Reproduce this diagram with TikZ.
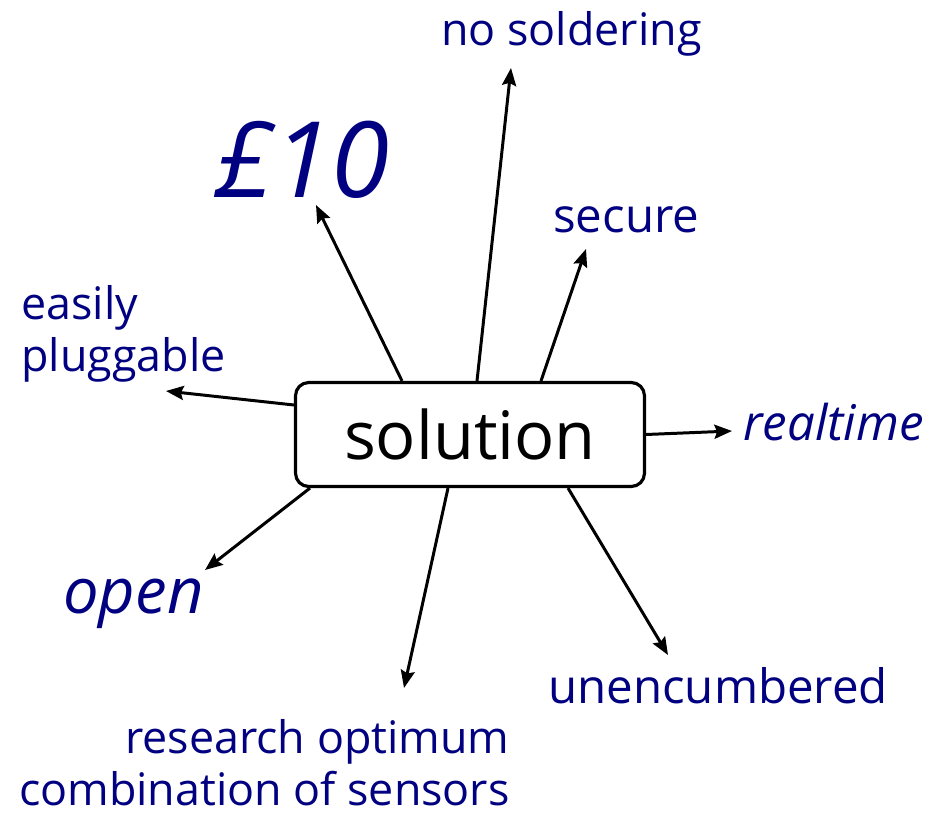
\documentclass[tikz,border=0pt]{standalone}
\usepackage{fontspec}
\setmainfont{Open Sans}
\usetikzlibrary{arrows.meta}
\definecolor{navy}{RGB}{0,0,128}
\tikzset{
  idea/.style={text=navy, inner sep=0pt},
  link/.style={-{Stealth[length=10pt,width=8pt,inset=1.5pt]}, line width=1.7pt},
}
\newcommand{\fsz}[1]{\fontsize{#1}{1.16\dimexpr #1pt\relax}\selectfont}
\begin{document}
\begin{tikzpicture}[x=0.02cm,y=-0.02cm]
  \useasboundingbox (0,0) rectangle (935,814);
  \node[draw, line width=1.8pt, rounded corners=7.5pt,
        minimum width=6.98cm, minimum height=2.08cm, font=\fsz{38}]
    (sol) at (470,434.5) {solution};

  \node[idea, anchor=base west, font=\fsz{25.5}] (solder) at (441,46) {no soldering};
  \node[idea, anchor=base west, font=\fsz{60}\itshape] (price) at (215,197) {£10};
  \node[idea, anchor=base west, font=\fsz{27}] (secure) at (553,232) {secure};
  % base of a two-line node sits on its last line
  \node[idea, anchor=base west, align=left, font=\fsz{25.5}] (plug) at (21,371) {easily\\pluggable};
  \node[idea, anchor=base west, font=\fsz{28}\itshape] (realtime) at (743,440) {realtime};
  \node[idea, anchor=base west, font=\fsz{36}\itshape] (open) at (63,613) {open};
  \node[idea, anchor=base east, align=right, font=\fsz{25.5}] (research) at (510,805)
    {research optimum\\combination of sensors};
  \node[idea, anchor=base west, font=\fsz{27}] (unenc) at (548,703) {unencumbered};

  % arrow tips, a little short of each label
  \coordinate (solder-tip) at (511,68);
  \coordinate (price-tip) at (316,205);
  \coordinate (secure-tip) at (586,249);
  \coordinate (plug-tip) at (166,391);
  \coordinate (realtime-tip) at (732,431);
  \coordinate (open-tip) at (205,570);
  \coordinate (research-tip) at (404,688);
  \coordinate (unenc-tip) at (668,655);

  \begin{scope}[link]
    \draw ([shift={(7,0)}]sol.north) -- (solder-tip);
    \draw ([shift={(-68,0)}]sol.north) -- (price-tip);
    \draw ([shift={(71,0)}]sol.north) -- (secure-tip);
    \draw ([shift={(0,-29.5)}]sol.west) -- (plug-tip);
    \draw (sol.east) -- (realtime-tip);
    \draw ([shift={(-160,0)}]sol.south) -- (open-tip);
    \draw ([shift={(-22,0)}]sol.south) -- (research-tip);
    \draw ([shift={(98,0)}]sol.south) -- (unenc-tip);
  \end{scope}
\end{tikzpicture}
\end{document}
